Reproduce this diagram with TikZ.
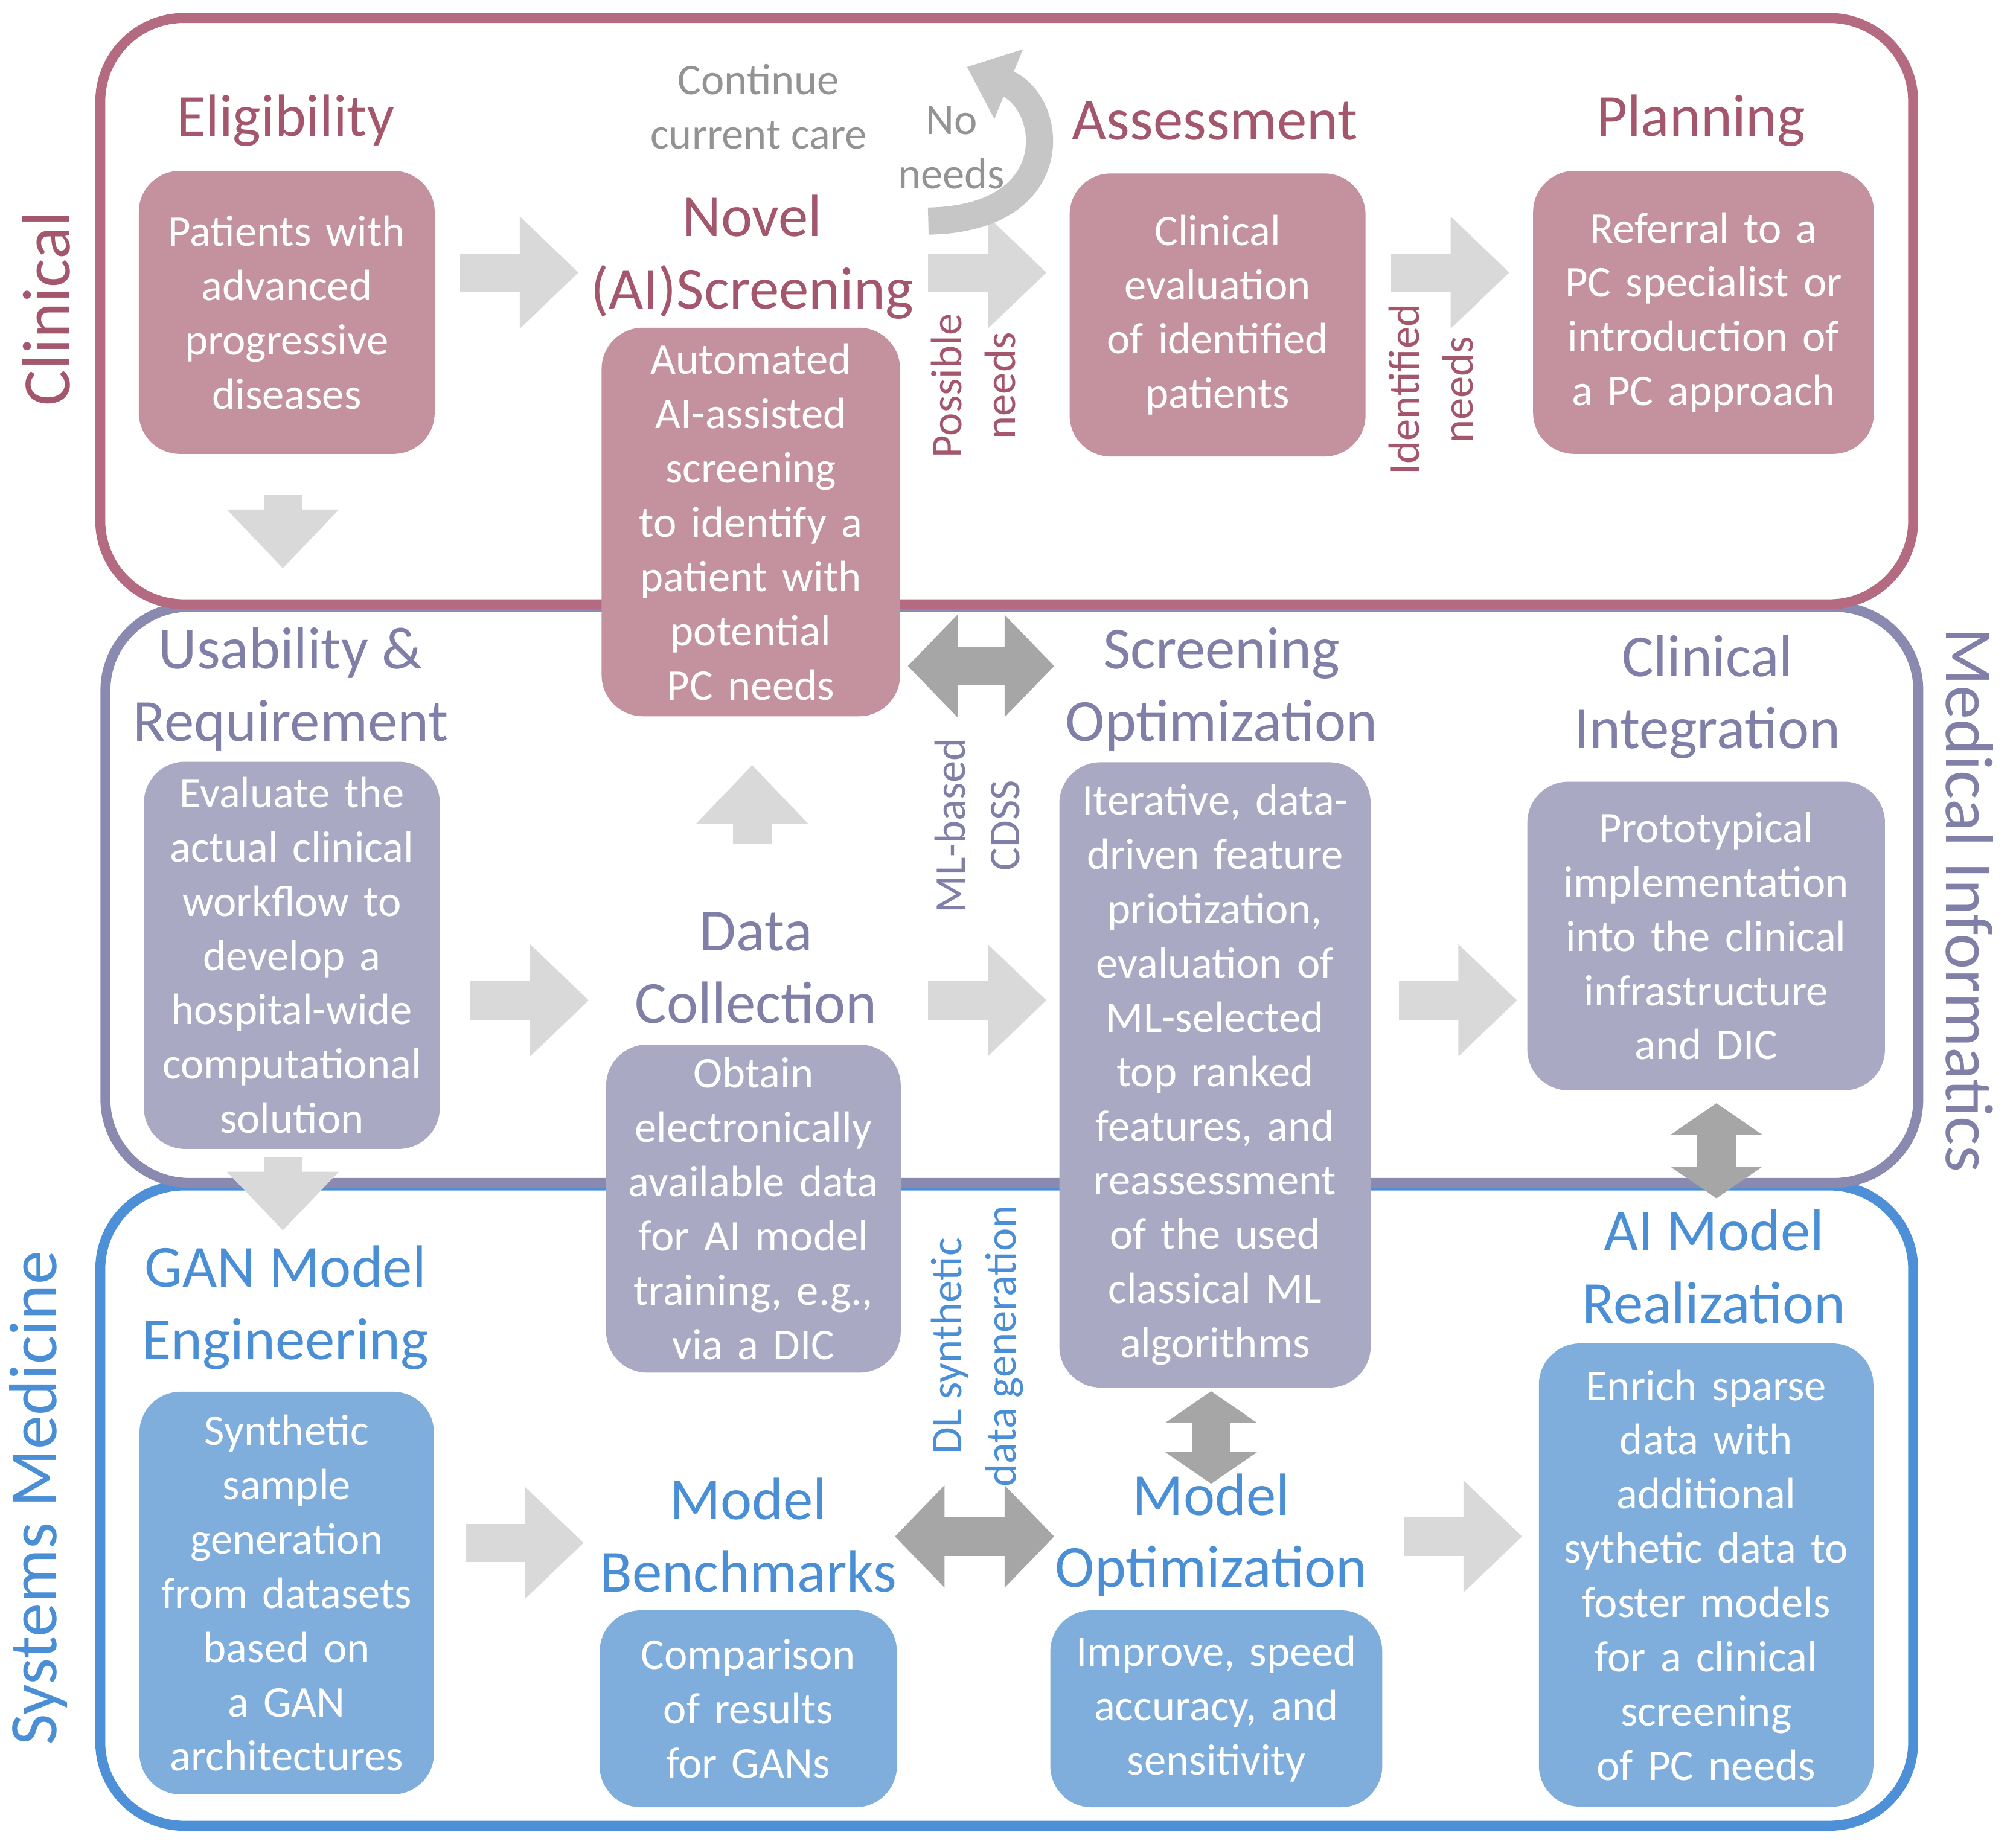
\documentclass[tikz,border=0pt]{standalone}
\usepackage{fontspec}
\setmainfont{Carlito}
\usetikzlibrary{arrows.meta}
\definecolor{cbox}{HTML}{C4919F}\definecolor{ctit}{HTML}{A3566C}\definecolor{cfr}{HTML}{B46A80}
\definecolor{mbox}{HTML}{A9A9C4}\definecolor{mtit}{HTML}{7F7FA8}\definecolor{mfr}{HTML}{8A8AB0}
\definecolor{sbox}{HTML}{7FAEDD}\definecolor{stit}{HTML}{4A8FD6}\definecolor{sfr}{HTML}{4E90D8}
\definecolor{la}{HTML}{D9D9D9}\definecolor{da}{HTML}{A6A6A6}
\tikzset{
 frame/.style={line width=2.2pt, rounded corners=0.65cm},
 box/.style={rounded corners=0.32cm, text=white, align=center, inner sep=0pt, font=\fontsize{9.7}{12}\selectfont},
 tit/.style={align=center, font=\fontsize{13.2}{16}\selectfont},
 side/.style={font=\fontsize{15}{18}\selectfont},
 rl/.style={rotate=90, align=center, font=\fontsize{9.7}{12}\selectfont},
 blk/.style={la, line width=8.5pt, -{Triangle[length=13pt,width=24pt]}},
 dbl/.style={da, line width=8.5pt, {Triangle[length=11pt,width=22pt]}-{Triangle[length=11pt,width=22pt]}},
 dblv/.style={da, line width=8.5pt, {Triangle[length=7pt,width=20pt]}-{Triangle[length=7pt,width=20pt]}},
}
\begin{document}
\hyphenpenalty=10000
\begin{tikzpicture}[x=0.01cm,y=-0.01cm]
\useasboundingbox (0,0) rectangle (1568,1434);
% frames
\draw[frame, sfr] (78,922) rectangle (1488,1420);
\draw[frame, mfr] (82,472) rectangle (1492,920);
\draw[frame, cfr] (78,14) rectangle (1488,470);
% side labels
\node[side, ctit, rotate=90] (sc) at (36,240) {Clinical};
\node[side, mtit, rotate=-90] (sm) at (1532,700) {Medical Informatics};
\node[side, stit, rotate=90] (ss) at (30,1165) {Systems Medicine};
% arrows (light)
\coordinate (a1s) at (358,212); \coordinate (a1e) at (450,212);
\coordinate (a2s) at (722,212); \coordinate (a2e) at (814,212);
\coordinate (a3s) at (1082,212); \coordinate (a3e) at (1174,212);
\coordinate (a4s) at (220,385); \coordinate (a4e) at (220,442);
\draw[blk] (a1s) -- (a1e); \draw[blk] (a2s) -- (a2e); \draw[blk] (a3s) -- (a3e); \draw[blk] (a4s) -- (a4e);
\coordinate (cu1) at (722,172); \coordinate (cu2) at (752,52);
\draw[gray!45, line width=6pt, -{Triangle[length=10pt,width=16pt]}] (cu1) .. controls (830,170) and (820,80) .. (cu2);
\coordinate (m1s) at (585,656); \coordinate (m1e) at (585,595);
\coordinate (m2s) at (366,778); \coordinate (m2e) at (458,778);
\coordinate (m3s) at (722,778); \coordinate (m3e) at (814,778);
\coordinate (m4s) at (1088,778); \coordinate (m4e) at (1180,778);
\coordinate (m5s) at (220,900); \coordinate (m5e) at (220,957);
\draw[blk] (m1s) -- (m1e); \draw[blk] (m2s) -- (m2e); \draw[blk] (m3s) -- (m3e); \draw[blk] (m4s) -- (m4e); \draw[blk] (m5s) -- (m5e);
\coordinate (d1s) at (706,518); \coordinate (d1e) at (820,518);
\draw[dbl] (d1s) -- (d1e);
\coordinate (d2s) at (1335,858); \coordinate (d2e) at (1335,932);
\draw[dblv] (d2s) -- (d2e);
\coordinate (s1s) at (362,1200); \coordinate (s1e) at (454,1200);
\coordinate (s2s) at (1092,1195); \coordinate (s2e) at (1184,1195);
\draw[blk] (s1s) -- (s1e); \draw[blk] (s2s) -- (s2e);
\coordinate (d3s) at (696,1195); \coordinate (d3e) at (820,1195);
\draw[dbl] (d3s) -- (d3e);
\coordinate (d4s) at (942,1082); \coordinate (d4e) at (942,1154);
\draw[dblv] (d4s) -- (d4e);
% clinical
\node[tit, ctit] (t1) at (222,94) {Eligibility};
\node[box, fill=cbox, minimum width=2.3cm, minimum height=2.2cm, text width=2.1cm] (b1) at (223,243) {Patients with advanced progressive diseases};
\node[tit, ctit] (t2) at (585,200) {Novel\\(AI)Screening};
\node[box, fill=cbox, minimum width=2.32cm, minimum height=3.02cm, text width=2.15cm] (b2) at (584,406) {Automated AI-assisted screening to identify a patient with potential PC needs};
\node[align=center, text=gray!85, font=\fontsize{9.7}{12}\selectfont] (cc) at (590,83) {Continue\\current care};
\node[align=center, text=gray!85, font=\fontsize{9.7}{12}\selectfont] (nn) at (740,115) {No\\needs};
\node[tit, ctit] (t3) at (945,94) {Assessment};
\node[box, fill=cbox, minimum width=2.3cm, minimum height=2.2cm, text width=2.1cm] (b3) at (947,245) {Clinical evaluation of identified patients};
\node[tit, ctit] (t4) at (1323,94) {Planning};
\node[box, fill=cbox, minimum width=2.65cm, minimum height=2.2cm, text width=2.5cm] (b4) at (1325,243) {Referral to a PC specialist or introduction of a PC approach};
\node[rl, ctit] (l1) at (757,300) {Possible\\needs};
\node[rl, ctit] (l2) at (1113,303) {Identified\\needs};
% MI
\node[tit, mtit] (t5) at (226,536) {Usability \&\\Requirement};
\node[box, fill=mbox, minimum width=2.3cm, minimum height=3.01cm, text width=2.2cm] (b5) at (227,743) {Evaluate the actual clinical workflow to develop a hospital-wide computational solution};
\node[tit, mtit] (t6) at (950,536) {Screening\\Optimization};
\node[box, fill=mbox, minimum width=2.42cm, minimum height=4.86cm, text width=2.38cm] (b6) at (945,836) {Iterative, data-driven feature priotization, evaluation of ML-selected top ranked features, and reassessment of the used classical ML algorithms};
\node[tit, mtit] (t7) at (1328,542) {Clinical\\Integration};
\node[box, fill=mbox, minimum width=2.78cm, minimum height=2.4cm, text width=2.6cm] (b7) at (1327,728) {Prototypical implementation into the clinical infrastructure and DIC};
\node[tit, mtit] (t8) at (588,753) {Data\\Collection};
\node[box, fill=mbox, minimum width=2.29cm, minimum height=2.55cm, text width=2.2cm] (b8) at (586,940) {Obtain electronically available data for AI model training, e.g., via a DIC};
\node[rl, mtit] (l3) at (760,642) {ML-based\\CDSS};
% SM
\node[tit, stit] (t9) at (222,1017) {GAN Model\\Engineering};
\node[box, fill=sbox, minimum width=2.29cm, minimum height=3.13cm, text width=2.2cm] (b9) at (223,1239) {Synthetic sample generation from datasets based on a GAN architectures};
\node[tit, stit] (t10) at (582,1194) {Model\\Benchmarks};
\node[box, fill=sbox, minimum width=2.31cm, minimum height=1.53cm, text width=2.2cm] (b10) at (582,1329) {Comparison of results for GANs};
\node[tit, stit] (t11) at (942,1194) {Model\\Optimization};
\node[box, fill=sbox, minimum width=2.58cm, minimum height=1.53cm, text width=2.45cm] (b11) at (946,1329) {Improve, speed accuracy, and sensitivity};
\node[tit, stit] (t12) at (1333,985) {AI Model\\Realization};
\node[box, fill=sbox, minimum width=2.6cm, minimum height=3.6cm, text width=2.5cm] (b12) at (1327,1225) {Enrich sparse data with additional sythetic data to foster models for a clinical screening of PC needs};
\node[rl, stit] (l4) at (760,1047) {DL synthetic\\data generation};
\end{tikzpicture}
\end{document}
